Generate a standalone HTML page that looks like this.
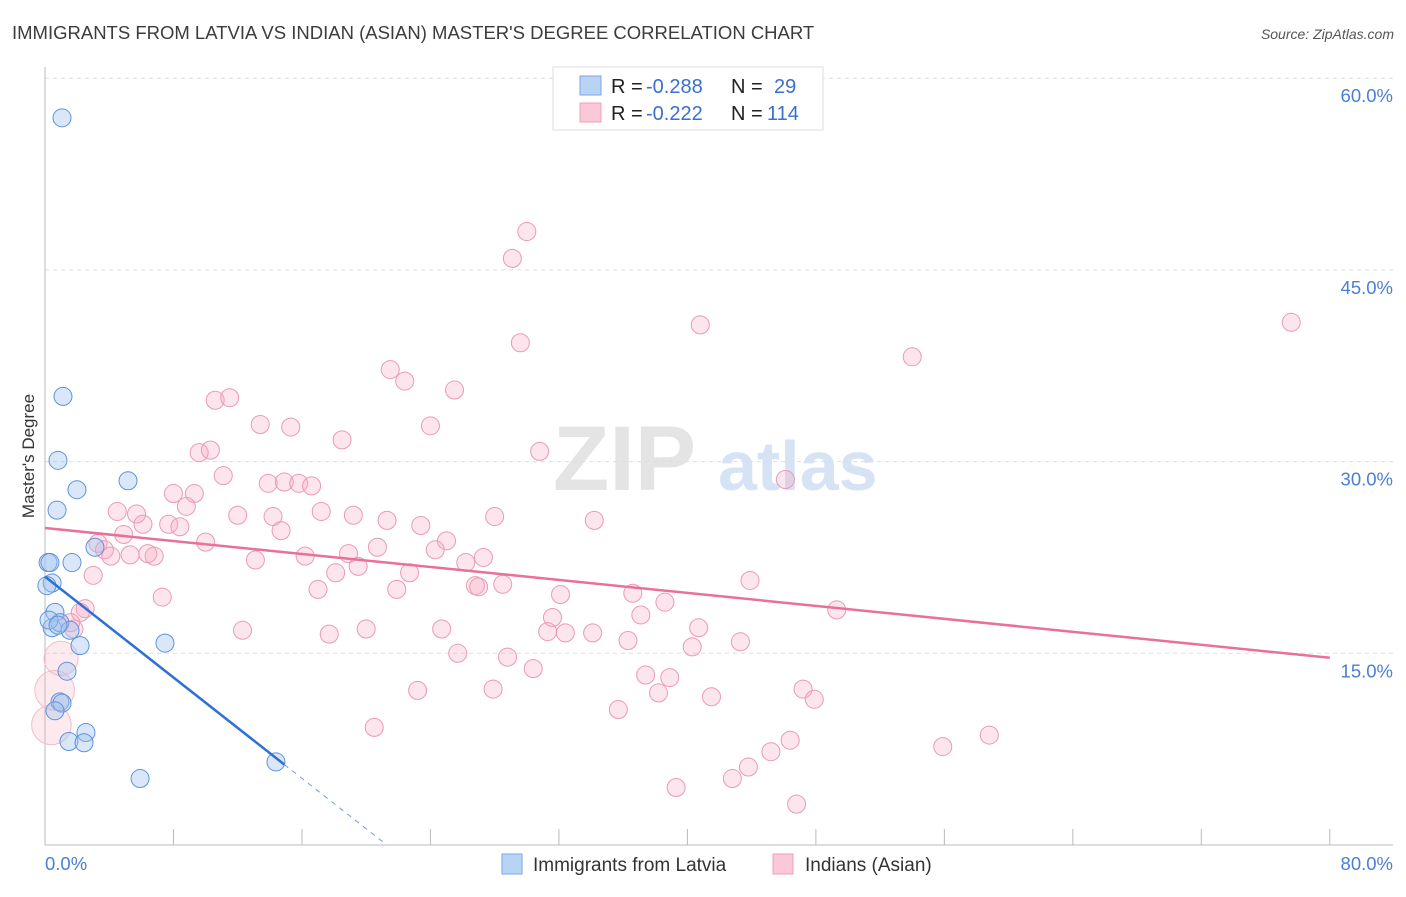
<!DOCTYPE html>
<html><head><meta charset="utf-8"><style>
body{margin:0;background:#fff;font-family:"Liberation Sans",sans-serif;}
svg text{font-family:"Liberation Sans",sans-serif;}
</style></head><body>
<svg id="chart" width="1406" height="892" xmlns="http://www.w3.org/2000/svg">
<text x="12" y="39" font-size="18.5" fill="#3c3c3c">IMMIGRANTS FROM LATVIA VS INDIAN (ASIAN) MASTER'S DEGREE CORRELATION CHART</text>
<text x="1394" y="39" font-size="14" fill="#555" font-style="italic" text-anchor="end">Source: ZipAtlas.com</text>
<g>
<text x="553" y="490" font-size="92" font-family="Liberation Serif" fill="#e4e4e4" font-weight="bold">ZIP</text>
<text x="718" y="490" font-size="70" fill="#d6e3f5" font-weight="bold">atlas</text>
</g>
<g id="grid"></g>
<g id="axes"></g>
<g id="pts"></g>
<g id="trends"></g>
<text transform="translate(34,456) rotate(-90)" font-size="17" fill="#333" text-anchor="middle">Master's Degree</text>
<g font-size="20">
<rect x="553" y="67" width="270" height="63" fill="#fff" stroke="#ddd"/>
<rect x="580" y="76" width="21" height="19" fill="#b9d3f5" stroke="#7aa7e6"/>
<rect x="580" y="103" width="21" height="19" fill="#fac8d6" stroke="#eea0b8"/>
<text x="611" y="93" fill="#222">R =</text><text x="646" y="93" fill="#3a6fd0">-0.288</text>
<text x="731" y="93" fill="#222">N =</text><text x="774" y="93" fill="#3a6fd0">29</text>
<text x="611" y="120" fill="#222">R =</text><text x="646" y="120" fill="#3a6fd0">-0.222</text>
<text x="731" y="120" fill="#222">N =</text><text x="767" y="120" fill="#3a6fd0">114</text>
</g>
<g>
<rect x="502" y="854" width="20" height="20" fill="#b9d3f5" stroke="#7aa7e6"/>
<text x="533" y="871" font-size="19" fill="#333">Immigrants from Latvia</text>
<rect x="773" y="854" width="20" height="20" fill="#fac8d6" stroke="#eea0b8"/>
<text x="805" y="871" font-size="19" fill="#333">Indians (Asian)</text>
</g>
</svg>
<script>
const yTicks=[15,30,45,60];
const yTickLabels=["15.0%","30.0%","45.0%","60.0%"];
const xTickLabels=["0.0%","80.0%"];
const latviaX=[1.06,1.12,0.81,1.99,0.75,5.17,3.11,0.19,0.31,1.68,0.44,0.62,0.44,0.93,1.56,2.18,1.37,0.93,1.06,0.62,2.55,1.49,2.43,7.47,5.92,14.38,0.12,0.25,0.81];
const latviaY=[56.9,35.1,30.1,27.8,26.2,28.5,23.3,22.1,22.1,22.1,20.5,18.2,17.0,17.4,16.8,15.6,13.6,11.2,11.1,10.5,8.8,8.1,8.0,15.8,5.2,6.5,20.3,17.6,17.2];
const indianX=[30.0,29.1,40.8,77.6,29.6,54.0,21.5,22.4,25.5,10.6,11.5,13.4,15.3,24.0,18.5,9.6,10.3,30.8,11.1,46.1,8.0,9.3,8.8,13.9,14.9,15.8,16.6,17.2,12.0,14.2,19.2,21.3,28.0,34.2,4.5,5.7,6.1,7.7,8.4,14.7,23.4,4.9,10.0,3.3,25.0,20.7,24.3,16.2,18.9,27.3,3.7,4.1,5.3,6.4,6.8,13.1,3.0,18.1,19.5,22.7,26.2,26.8,28.5,27.0,43.9,17.0,21.9,7.3,32.1,36.6,38.6,49.3,31.6,2.5,2.2,37.1,1.6,1.8,12.3,17.7,20.0,24.7,31.3,32.4,34.1,40.7,36.3,43.3,40.3,25.7,28.8,30.4,37.4,38.9,38.2,23.2,27.9,41.5,47.2,47.9,35.7,20.5,55.9,58.8,46.4,45.2,43.8,42.8,39.3,46.8,1.0,0.6,0.4];
const indianY=[48.0,45.9,40.7,40.9,39.3,38.2,37.2,36.3,35.6,34.8,35.0,32.9,32.7,32.8,31.7,30.7,30.9,30.8,28.9,28.6,27.5,27.5,26.5,28.3,28.4,28.3,28.1,26.1,25.8,25.7,25.8,25.4,25.7,25.4,26.1,25.9,25.1,25.1,24.9,24.6,25.0,24.3,23.7,23.6,23.8,23.3,23.1,22.6,22.8,22.5,23.1,22.6,22.7,22.8,22.6,22.3,21.1,21.3,21.8,21.3,22.1,20.3,20.4,20.2,20.7,20.0,20.0,19.4,19.6,19.7,19.0,18.4,17.8,18.5,18.2,18.0,17.4,16.9,16.8,16.5,16.9,16.9,16.7,16.6,16.6,17.0,16.0,15.9,15.5,15.0,14.7,13.8,13.3,13.1,11.9,12.1,12.2,11.6,12.2,11.4,10.6,9.2,7.7,8.6,8.2,7.3,6.1,5.2,4.5,3.2,14.6,12.1,9.4];
const indianSize=[];for(let i=0;i<indianX.length;i++)indianSize.push(1);
indianSize[indianSize.length-3]=1.9;indianSize[indianSize.length-2]=2.2;indianSize[indianSize.length-1]=2.2;
const latviaTrend=[21.0,6.3,14.9];
const indianTrend=[24.8,14.65];
const NS="http://www.w3.org/2000/svg";
const X=v=>45+v*16.06, Y=v=>845-v*12.78;
function mk(tag,at,parent){const e=document.createElementNS(NS,tag);for(const k in at)e.setAttribute(k,at[k]);parent.appendChild(e);return e;}
const grid=document.getElementById('grid'),axes=document.getElementById('axes'),pts=document.getElementById('pts'),tr=document.getElementById('trends');
yTicks.forEach((t,i)=>{
 const l=mk('line',{x1:45,x2:1393,y1:Y(t),y2:Y(t),stroke:'#ddd','stroke-dasharray':'4,4'},grid);
 
 const tx=mk('text',{x:1393,y:Y(t)+24,'font-size':18.5,fill:'#4a7fd4','text-anchor':'end'},grid);
 tx.textContent=yTickLabels[i];
 
});
const ax=mk('line',{x1:45,x2:1393,y1:845,y2:845,stroke:'#bbb'},axes);

const ay=mk('line',{x1:45,x2:45,y1:67,y2:845,stroke:'#bbb'},axes);

for(let i=0;i<=10;i++){const t=mk('line',{x1:X(i*8),x2:X(i*8),y1:829,y2:845,stroke:'#bbb'},axes);
 }
[[0,'start',45],[80,'end',1393]].forEach((d,i)=>{const t=mk('text',{x:d[2],y:870,'font-size':18.5,fill:'#4a7fd4','text-anchor':d[1]},axes);
 t.textContent=xTickLabels[i];});
indianX.forEach((v,i)=>{const big=indianSize[i]>1;const c=mk('circle',{cx:X(v),cy:Y(indianY[i]),r:9*indianSize[i],fill:big?'rgba(246,170,192,0.25)':'rgba(246,170,192,0.3)',stroke:big?'#f2bccb':'#eb9ab3','stroke-width':1},pts);
 });
latviaX.forEach((v,i)=>{const c=mk('circle',{cx:X(v),cy:Y(latviaY[i]),r:9,fill:'rgba(160,196,240,0.4)',stroke:'#5e93dc','stroke-width':1},pts);
 });
const pl=mk('line',{x1:X(0),y1:Y(indianTrend[0]),x2:X(80),y2:Y(indianTrend[1]),stroke:'#e8709a','stroke-width':2.5},tr);

const slope=(latviaTrend[1]-latviaTrend[0])/latviaTrend[2];
const bl=mk('line',{x1:X(0),y1:Y(latviaTrend[0]),x2:X(latviaTrend[2]),y2:Y(latviaTrend[1]),stroke:'#2f6fd6','stroke-width':2.5},tr);

const x0=-latviaTrend[0]/slope;
const bd=mk('line',{x1:X(latviaTrend[2]),y1:Y(latviaTrend[1]),x2:X(x0),y2:Y(0),stroke:'#6f9be0','stroke-width':1,'stroke-dasharray':'5,5'},tr);

</script>
</body></html>
